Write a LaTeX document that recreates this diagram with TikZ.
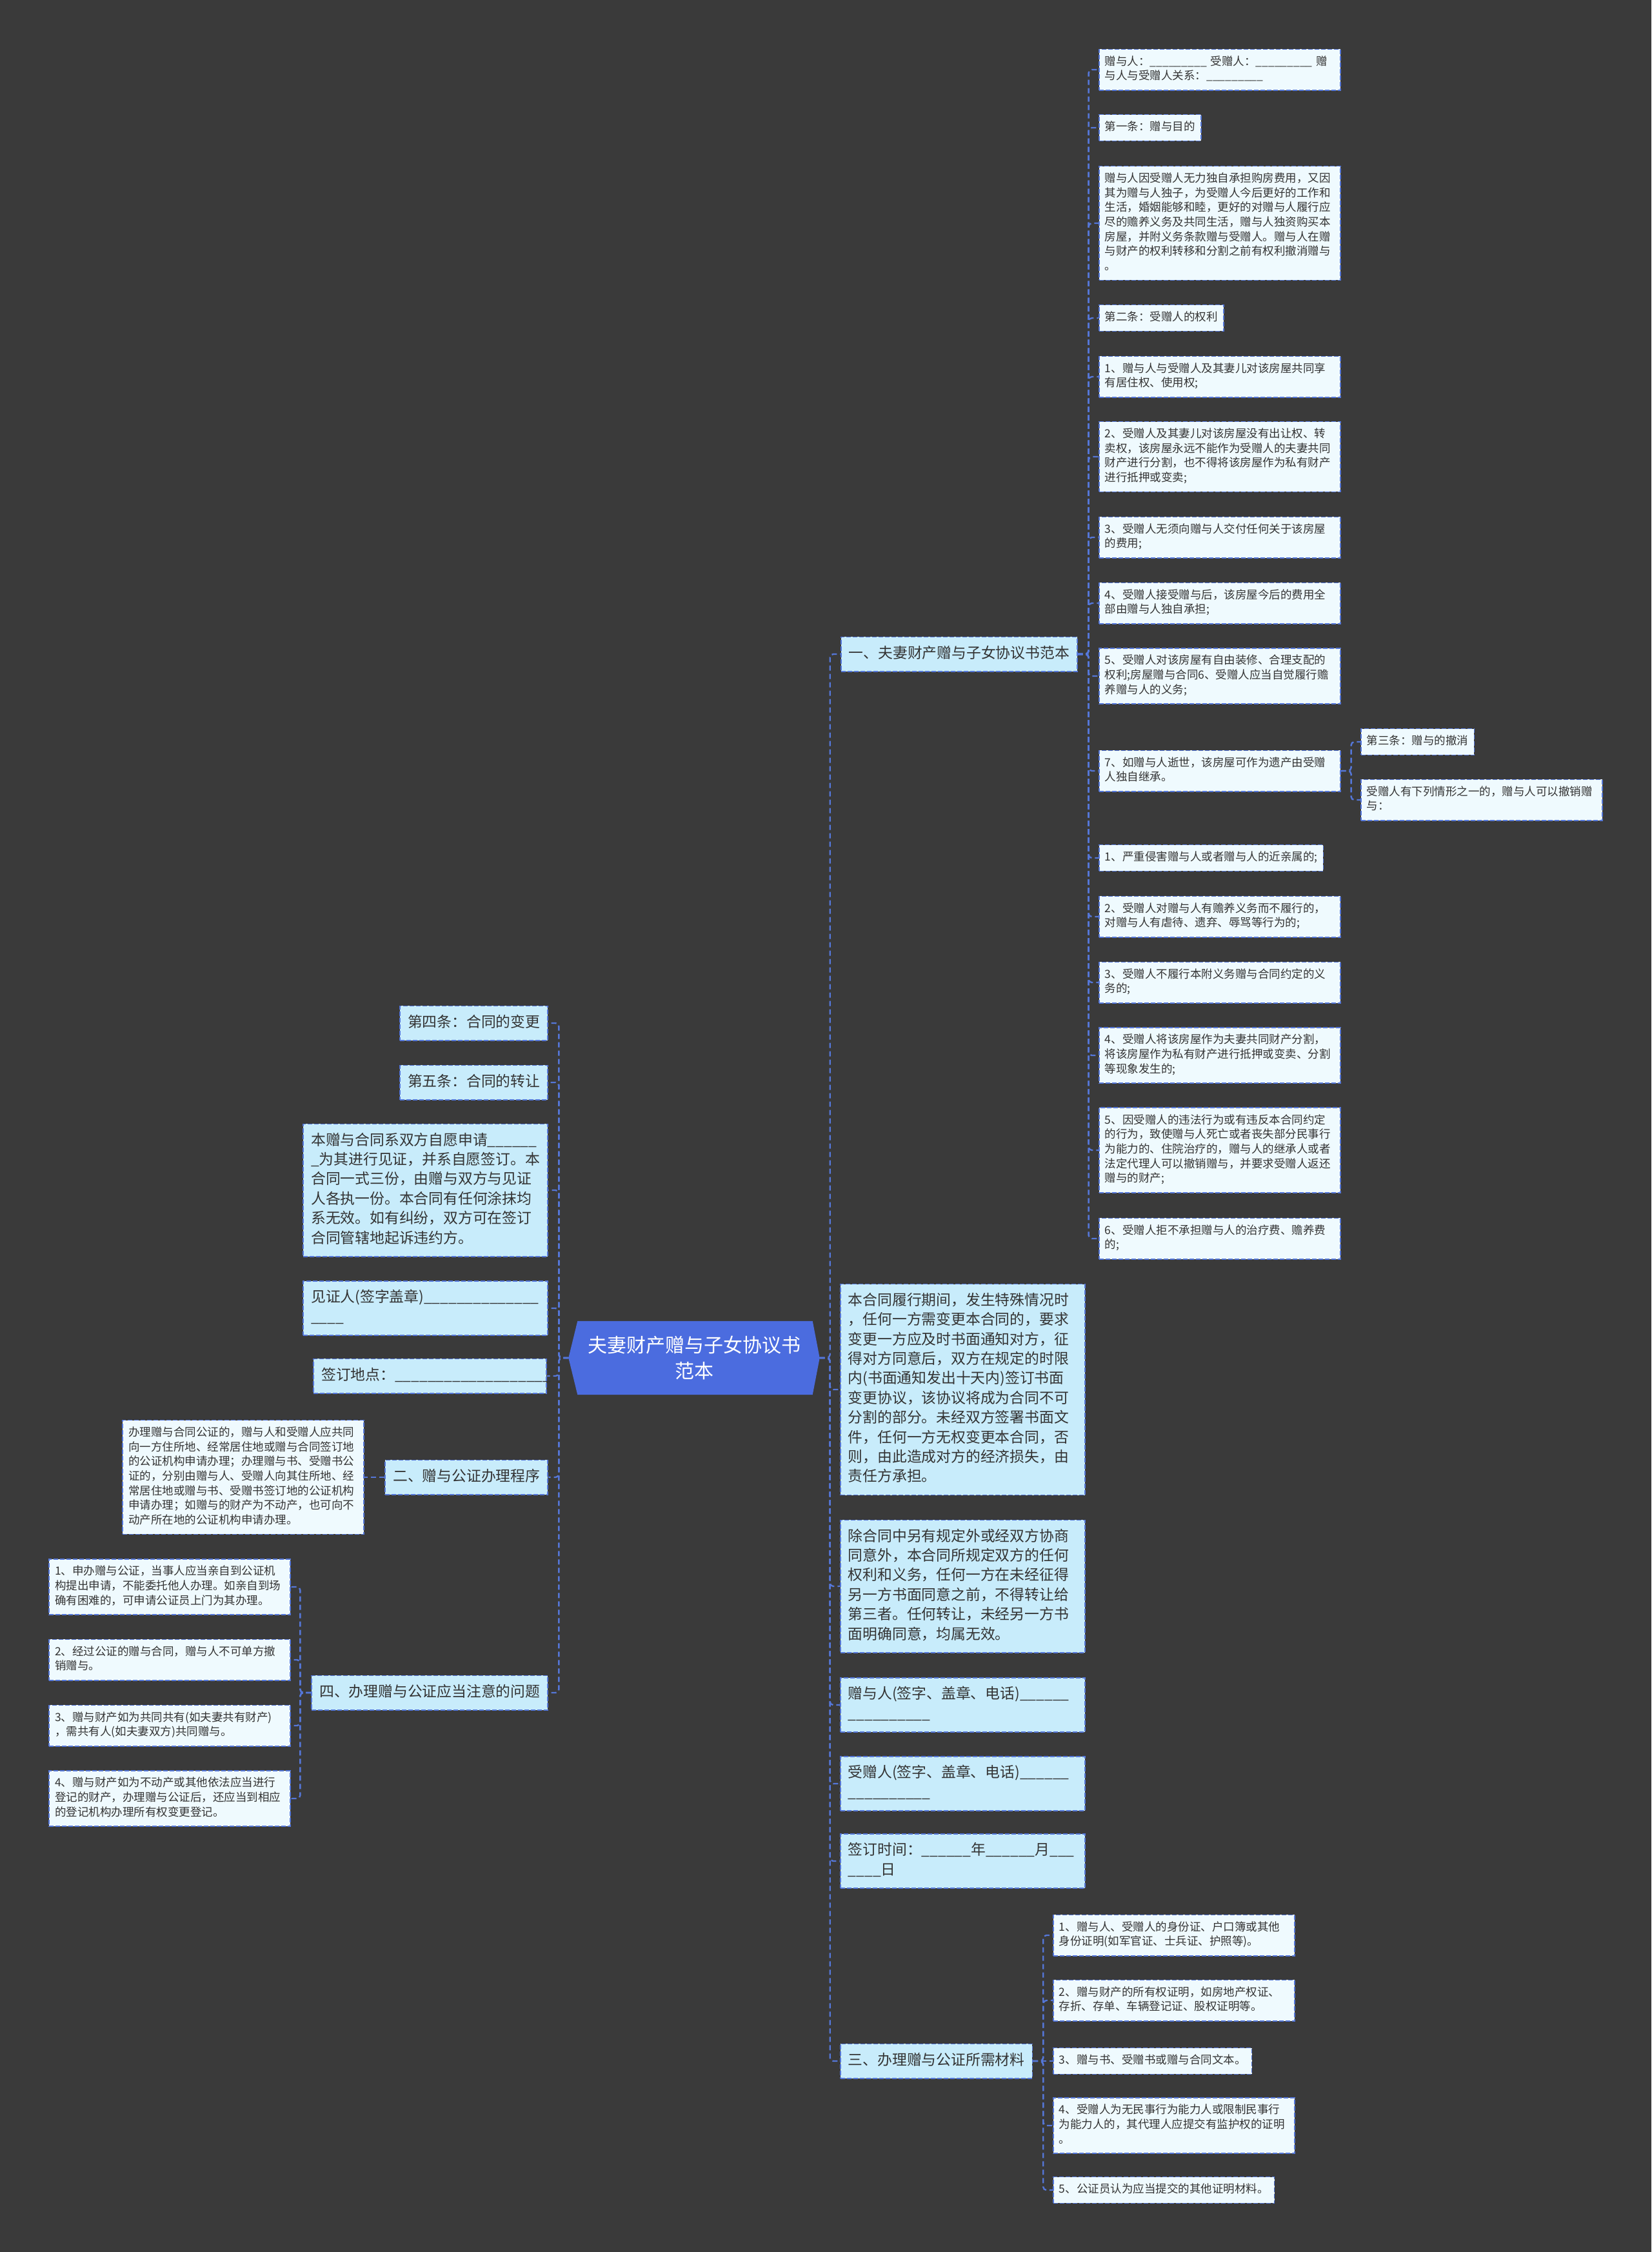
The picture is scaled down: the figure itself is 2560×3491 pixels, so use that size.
\documentclass[tikz,border=0pt]{standalone}
\usepackage{fontspec}
\setmainfont{Noto Sans CJK SC}
\ExplSyntaxOn
\NewDocumentCommand{\usc}{m}{\prg_replicate:nn{#1}{\_}}
\ExplSyntaxOff
\definecolor{bgc}{HTML}{3A3A3A}
\definecolor{lineblue}{HTML}{5577D9}
\definecolor{lvone}{HTML}{C8ECFB}
\definecolor{lvtwo}{HTML}{EFFAFE}
\definecolor{rootblue}{HTML}{4B6CDF}
\definecolor{txt}{HTML}{333333}
\pgfdeclarelayer{canvas}
\pgfdeclarelayer{bg}
\pgfsetlayers{canvas,bg,main}
\tikzset{
  box/.style={draw=lineblue, line width=1.6pt, dash pattern=on 7pt off 3pt, text=txt, align=left,
    execute at begin node=\strut, execute at end node=\strut},
  lone/.style={box, fill=lvone, font=\fontsize{22.8}{30.4}\selectfont, inner xsep=12pt, inner ysep=11.5pt},
  lonem/.style={lone, text width=355pt},
  ltwo/.style={box, fill=lvtwo, font=\fontsize{17.5}{22.7}\selectfont, inner xsep=9pt, inner ysep=9pt},
  ltwom/.style={ltwo, text width=356pt},
  conn/.style={draw=lineblue, line width=2.4pt, dash pattern=on 8pt off 5pt, rounded corners=5pt},
}
\begin{document}
\begin{tikzpicture}[x=1pt,y=-1pt]
\begin{pgfonlayer}{canvas}
\fill[bgc] (0,0) rectangle (2560,3491);
\end{pgfonlayer}
\useasboundingbox (0,0) rectangle (2560,3491);

% root
\node[font=\fontsize{30}{40}\selectfont, text=white, align=center, minimum width=389pt, minimum height=114pt, inner sep=0pt] (root) at (1076,2105) {夫妻财产赠与子女协议书\\范本};
\begin{pgfonlayer}{bg}
\fill[rootblue] (root.west) -- ([xshift=14pt]root.north west) -- ([xshift=-11pt]root.north east) -- (root.east) -- ([xshift=-11pt]root.south east) -- ([xshift=14pt]root.south west) -- cycle;
\end{pgfonlayer}

% right level 1
\node[lone, anchor=west] (R1) at (1303,1014) {一、夫妻财产赠与子女协议书范本};
\node[lonem, anchor=west] (R2) at (1302,2154) {本合同履行期间，发生特殊情况时\\，任何一方需变更本合同的，要求\\变更一方应及时书面通知对方，征\\得对方同意后，双方在规定的时限\\内(书面通知发出十天内)签订书面\\变更协议，该协议将成为合同不可\\分割的部分。未经双方签署书面文\\件，任何一方无权变更本合同，否\\则，由此造成对方的经济损失，由\\责任方承担。};
\node[lonem, anchor=west] (R3) at (1302,2459) {除合同中另有规定外或经双方协商\\同意外，本合同所规定双方的任何\\权利和义务，任何一方在未经征得\\另一方书面同意之前，不得转让给\\第三者。任何转让，未经另一方书\\面明确同意，均属无效。};
\node[lonem, anchor=west] (R4) at (1302,2643) {赠与人(签字、盖章、电话)\usc{6}\\\usc{10}};
\node[lonem, anchor=west] (R5) at (1302,2765) {受赠人(签字、盖章、电话)\usc{6}\\\usc{10}};
\node[lonem, anchor=west] (R6) at (1302,2885) {签订时间：\usc{6}年\usc{6}月\usc{3}\\\usc{4}日};
\node[lone, anchor=west] (R7) at (1302,3195) {三、办理赠与公证所需材料};

% R1 children
\node[ltwom, anchor=west] (C1) at (1703,108) {赠与人：\usc{9} 受赠人：\usc{9} 赠\\与人与受赠人关系：\usc{9}};
\node[ltwo, anchor=west] (C2) at (1703,198) {第一条：赠与目的};
\node[ltwom, anchor=west] (C3) at (1703,346) {赠与人因受赠人无力独自承担购房费用，又因\\其为赠与人独子，为受赠人今后更好的工作和\\生活，婚姻能够和睦，更好的对赠与人履行应\\尽的赡养义务及共同生活，赠与人独资购买本\\房屋，并附义务条款赠与受赠人。赠与人在赠\\与财产的权利转移和分割之前有权利撤消赠与\\。};
\node[ltwo, anchor=west] (C4) at (1703,493) {第二条：受赠人的权利};
\node[ltwom, anchor=west] (C5) at (1703,584) {1、赠与人与受赠人及其妻儿对该房屋共同享\\有居住权、使用权;};
\node[ltwom, anchor=west] (C6) at (1703,708) {2、受赠人及其妻儿对该房屋没有出让权、转\\卖权，该房屋永远不能作为受赠人的夫妻共同\\财产进行分割，也不得将该房屋作为私有财产\\进行抵押或变卖;};
\node[ltwom, anchor=west] (C7) at (1703,833) {3、受赠人无须向赠与人交付任何关于该房屋\\的费用;};
\node[ltwom, anchor=west] (C8) at (1703,935) {4、受赠人接受赠与后，该房屋今后的费用全\\部由赠与人独自承担;};
\node[ltwom, anchor=west] (C9) at (1703,1048) {5、受赠人对该房屋有自由装修、合理支配的\\权利;房屋赠与合同6、受赠人应当自觉履行赡\\养赠与人的义务;};
\node[ltwom, anchor=west] (C10) at (1703,1195) {7、如赠与人逝世，该房屋可作为遗产由受赠\\人独自继承。};
\node[ltwo, anchor=west] (C11) at (1703,1330) {1、严重侵害赠与人或者赠与人的近亲属的;};
\node[ltwom, anchor=west] (C12) at (1703,1421) {2、受赠人对赠与人有赡养义务而不履行的，\\对赠与人有虐待、遗弃、辱骂等行为的;};
\node[ltwom, anchor=west] (C13) at (1703,1523) {3、受赠人不履行本附义务赠与合同约定的义\\务的;};
\node[ltwom, anchor=west] (C14) at (1703,1636) {4、受赠人将该房屋作为夫妻共同财产分割，\\将该房屋作为私有财产进行抵押或变卖、分割\\等现象发生的;};
\node[ltwom, anchor=west] (C15) at (1703,1783) {5、因受赠人的违法行为或有违反本合同约定\\的行为，致使赠与人死亡或者丧失部分民事行\\为能力的、住院治疗的，赠与人的继承人或者\\法定代理人可以撤销赠与，并要求受赠人返还\\赠与的财产;};
\node[ltwom, anchor=west] (C16) at (1703,1920) {6、受赠人拒不承担赠与人的治疗费、赡养费\\的;};

% C10 children
\node[ltwo, anchor=west] (D1) at (2109,1150) {第三条：赠与的撤消};
\node[ltwom, anchor=west] (D2) at (2109,1240) {受赠人有下列情形之一的，赠与人可以撤销赠\\与：};

% R7 children
\node[ltwom, anchor=west] (E1) at (1632,3000) {1、赠与人、受赠人的身份证、户口簿或其他\\身份证明(如军官证、士兵证、护照等)。};
\node[ltwom, anchor=west] (E2) at (1632,3101) {2、赠与财产的所有权证明，如房地产权证、\\存折、存单、车辆登记证、股权证明等。};
\node[ltwo, anchor=west] (E3) at (1632,3195) {3、赠与书、受赠书或赠与合同文本。};
\node[ltwom, anchor=west] (E4) at (1632,3295) {4、受赠人为无民事行为能力人或限制民事行\\为能力人的，其代理人应提交有监护权的证明\\。};
\node[ltwo, anchor=west] (E5) at (1632,3395) {5、公证员认为应当提交的其他证明材料。};

% left level 1
\node[lone, anchor=east] (L1) at (850,1586) {第四条：合同的变更};
\node[lone, anchor=east] (L2) at (850,1678) {第五条：合同的转让};
\node[lonem, anchor=east] (L3) at (850,1845) {本赠与合同系双方自愿申请\usc{6}\\\usc{1}为其进行见证，并系自愿签订。本\\合同一式三份，由赠与双方与见证\\人各执一份。本合同有任何涂抹均\\系无效。如有纠纷，双方可在签订\\合同管辖地起诉违约方。};
\node[lonem, anchor=east] (L4) at (850,2028) {见证人(签字盖章)\usc{14}\\\usc{4}};
\node[lone, anchor=east, text width=337pt] (L5) at (848,2133) {签订地点：\usc{19}};
\node[lone, anchor=east] (L6) at (850,2290) {二、赠与公证办理程序};
\node[lone, anchor=east] (L7) at (850,2624) {四、办理赠与公证应当注意的问题};

% left level 2
\node[ltwom, anchor=east] (L6a) at (565,2290) {办理赠与合同公证的，赠与人和受赠人应共同\\向一方住所地、经常居住地或赠与合同签订地\\的公证机构申请办理；办理赠与书、受赠书公\\证的，分别由赠与人、受赠人向其住所地、经\\常居住地或赠与书、受赠书签订地的公证机构\\申请办理；如赠与的财产为不动产，也可向不\\动产所在地的公证机构申请办理。};
\node[ltwom, anchor=east] (L7a) at (451,2460) {1、申办赠与公证，当事人应当亲自到公证机\\构提出申请，不能委托他人办理。如亲自到场\\确有困难的，可申请公证员上门为其办理。};
\node[ltwom, anchor=east] (L7b) at (451,2573) {2、经过公证的赠与合同，赠与人不可单方撤\\销赠与。};
\node[ltwom, anchor=east] (L7c) at (451,2675) {3、赠与财产如为共同共有(如夫妻共有财产)\\，需共有人(如夫妻双方)共同赠与。};
\node[ltwom, anchor=east] (L7d) at (451,2788) {4、赠与财产如为不动产或其他依法应当进行\\登记的财产，办理赠与公证后，还应当到相应\\的登记机构办理所有权变更登记。};

% connectors: root right
\foreach \n in {R1,R2,R3,R4,R5,R6,R7}
  \draw[conn] (root.east) -- ++(16,0) |- (\n.west);
% root left
\foreach \n in {L1,L2,L3,L4,L5,L6,L7}
  \draw[conn] (root.west) -- ++(-15,0) |- (\n.east);
% R1 children
\foreach \n in {C1,C2,C3,C4,C5,C6,C7,C8,C9,C10,C11,C12,C13,C14,C15,C16}
  \draw[conn] (R1.east) -- ++(17,0) |- (\n.west);
% C10 children
\foreach \n in {D1,D2}
  \draw[conn] (C10.east) -- ++(16,0) |- (\n.west);
% R7 children
\foreach \n in {E1,E2,E4,E5}
  \draw[conn] (R7.east) -- ++(16,0) |- (\n.west);
\draw[conn] (R7.east) -- (E3.west);
% L6, L7 children
\draw[conn] (L6.west) -- (L6a.east);
\foreach \n in {L7a,L7b,L7c,L7d}
  \draw[conn] (L7.west) -- ++(-17,0) |- (\n.east);
\end{tikzpicture}
\end{document}
